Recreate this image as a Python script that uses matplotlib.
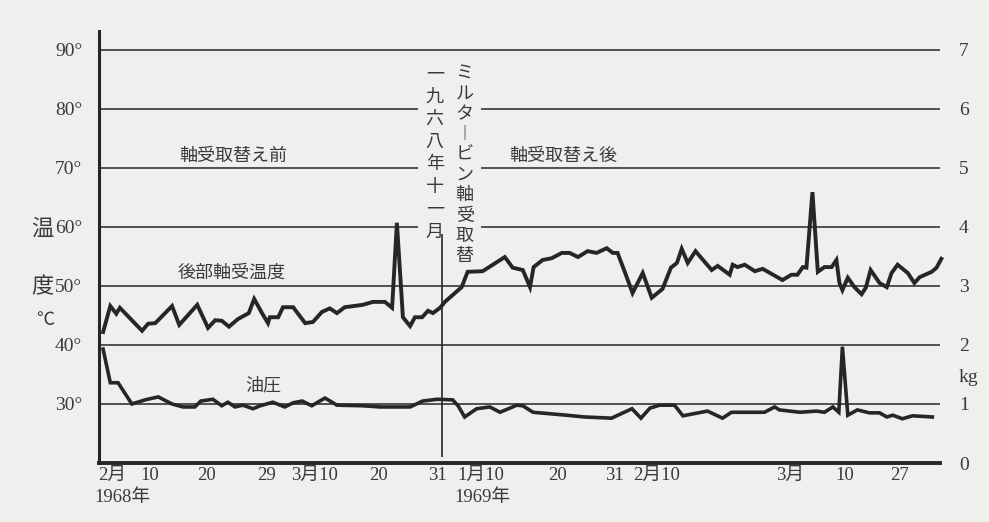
import matplotlib
matplotlib.use("Agg")
import matplotlib.pyplot as plt

# chart days (x) and readings
temp_day = [0.5, 1.7, 2.7, 3.3, 7.0, 8.0, 9.2, 12.0, 13.2, 16.2, 18.0, 19.2, 20.3, 21.5,
            23.0, 24.8, 25.7, 27.0, 28.0, 28.3, 29.7, 30.5, 32.2, 34.2, 35.5, 37.0, 38.3,
            39.5, 40.8, 43.8, 45.5, 47.5, 48.7, 49.5, 50.5, 51.7, 52.5, 53.7, 54.7, 55.5,
            56.7, 57.5, 60.3, 61.3, 63.8, 67.5, 68.8, 70.5, 71.7, 72.3, 73.8, 75.3, 77.0,
            78.3, 79.7, 81.3, 82.8, 84.5, 85.5, 86.3, 87.5, 88.8, 90.5, 92.0, 93.8, 95.2,
            96.2, 97.0, 98.0, 99.3, 100.3, 102.0, 103.0, 105.0, 105.5, 106.3, 107.5, 109.2,
            110.5, 113.8, 115.3, 116.3, 117.2, 117.8, 118.8, 119.7, 120.8, 122.0, 122.8,
            123.3, 123.8, 124.7, 125.8, 127.0, 127.7, 128.5, 130.0, 131.2, 132.0, 133.0,
            134.7, 135.8, 136.7, 138.7, 139.5, 140.3]
temp_c = [42.2, 46.6, 45.3, 46.3, 42.4, 43.6, 43.7, 46.6, 43.4, 46.8, 42.9, 44.2, 44.1, 43.1,
          44.4, 45.4, 47.8, 45.4, 43.7, 44.7, 44.7, 46.4, 46.4, 43.7, 43.9, 45.6, 46.2,
          45.4, 46.4, 46.8, 47.3, 47.3, 46.3, 60.7, 44.7, 43.2, 44.7, 44.7, 45.8, 45.4,
          46.3, 47.3, 49.8, 52.4, 52.5, 54.9, 53.1, 52.7, 49.8, 53.2, 54.4, 54.7, 55.6,
          55.6, 54.9, 55.9, 55.6, 56.4, 55.6, 55.6, 52.4, 48.8, 52.2, 48.0, 49.5, 53.1,
          53.9, 56.3, 53.9, 55.9, 54.7, 52.7, 53.4, 51.9, 53.6, 53.2, 53.6, 52.5,
          52.9, 51.0, 51.9, 51.9, 53.2, 53.1, 65.9, 52.4, 53.2, 53.2, 54.4,
          50.5, 49.3, 51.4, 49.8, 48.6, 49.7, 52.7, 50.5, 49.8, 52.2, 53.6,
          52.2, 50.5, 51.5, 52.4, 53.1, 54.6]

oil_day = [0.5, 1.7, 3.0, 5.3, 7.5, 9.7, 12.0, 13.8, 15.8, 16.8, 18.8, 20.3, 21.3, 22.5,
           23.8, 25.5, 26.7, 28.8, 30.8, 32.2, 33.7, 35.3, 36.3, 37.5, 38.7, 39.5, 43.8,
           46.7, 51.7, 53.8, 56.2, 58.8, 59.7, 60.8, 62.8, 65.0, 66.7, 69.5, 70.5, 72.2,
           77.8, 80.8, 85.3, 88.7, 90.2, 91.7, 93.3, 95.8, 97.2, 101.3, 103.8, 105.3,
           110.8, 112.5, 113.3, 116.7, 119.5, 120.8, 122.2, 123.2, 123.8, 124.7, 126.3,
           128.3, 130.0, 131.2, 132.2, 133.8, 135.5, 138.8]
oil_kg = [1.93, 1.36, 1.36, 1.00, 1.07, 1.12, 1.00, 0.95, 0.95, 1.05, 1.08, 0.97, 1.03, 0.95,
          0.98, 0.92, 0.97, 1.03, 0.95, 1.02, 1.05, 0.97, 1.03, 1.10, 1.03, 0.98, 0.97,
          0.95, 0.95, 1.05, 1.08, 1.07, 0.97, 0.78, 0.92, 0.95, 0.86, 0.98, 0.97, 0.86,
          0.81, 0.78, 0.76, 0.92, 0.76, 0.93, 0.98, 0.98, 0.80, 0.88, 0.76, 0.86,
          0.86, 0.95, 0.90, 0.86, 0.88, 0.86, 0.95, 0.86, 1.97, 0.81, 0.90,
          0.85, 0.85, 0.78, 0.81, 0.75, 0.80, 0.78]

tick_days = [2.0, 8.3, 17.8, 27.8, 35.7, 46.5, 56.3, 63.5, 76.2, 85.8, 92.8, 115.0, 124.2, 133.3]
tick_labels = ["2月", "10", "20", "29", "3月10", "20", "31", "1月10", "20", "31", "2月10",
               "3月", "10", "27"]
years = ["1968年", "1969年"]
year_days = [3.7, 63.8]
temp_ticks = [30, 40, 50, 60, 70, 80, 90]
kg_ticks = [0, 1, 2, 3, 4, 5, 6, 7]
change_day = 57.0

BG = "#efefed"
INK = "#262626"
TXT = "#3a3a3a"
NUM_FONT = ["Liberation Serif", "Noto Sans CJK JP"]
JP_FONT = ["Noto Sans CJK JP", "DejaVu Sans"]

fig = plt.figure(figsize=(9.89, 5.22), dpi=100, facecolor=BG)
ax = fig.add_axes([0.100, 0.113, 0.850, 0.8276], facecolor=BG)
ax2 = ax.twinx()

ax.set_xlim(-0.2, 140)
ax.set_ylim(20, 93.2)
ax2.set_ylim(0, 7.32)

for s in ["top", "right"]:
    ax.spines[s].set_visible(False)
for s in ax2.spines.values():
    s.set_visible(False)
ax.spines["left"].set_linewidth(2.2)
ax.spines["bottom"].set_linewidth(2.8)
ax.spines["left"].set_color(INK)
ax.spines["bottom"].set_color(INK)

ax.set_yticks(temp_ticks)
ax.set_yticklabels([f"{t}°" for t in temp_ticks], family=NUM_FONT, fontsize=14, color=TXT)
ax.tick_params(axis="y", length=0, pad=12)
ax.grid(axis="y", color=INK, lw=1.1)

ax.set_xticks(tick_days)
ax.set_xticklabels(tick_labels, family=NUM_FONT, fontsize=13.5, color=TXT)
ax.tick_params(axis="x", length=0, pad=3)

ax2.set_yticks(kg_ticks)
ax2.set_yticklabels([str(k) for k in kg_ticks], family=NUM_FONT, fontsize=14, color=TXT)
ax2.tick_params(axis="y", length=0, pad=14)

for yl, yd in zip(years, year_days):
    ax.text(yd, -0.08, yl, transform=ax.get_xaxis_transform(), ha="center", va="center",
            family=NUM_FONT, fontsize=13.5, color=TXT)

ax.plot(temp_day, temp_c, color=INK, lw=2.8, solid_joinstyle="miter", zorder=5, clip_on=False)
ax2.plot(oil_day, oil_kg, color=INK, lw=2.6, solid_joinstyle="miter", zorder=5)

ax.vlines(change_day, 21, 58.8, color=INK, lw=1.2, zorder=4)

# labels inside the chart
ax.text(22.2, 72.0, "軸受取替え前", ha="center", va="center", family=JP_FONT, fontsize=13, color=TXT)
ax.text(77.2, 72.0, "軸受取替え後", ha="center", va="center", family=JP_FONT, fontsize=13, color=TXT)
ax.text(22.0, 52.2, "後部軸受温度", ha="center", va="center", family=JP_FONT, fontsize=13, color=TXT)
ax.text(27.2, 33.2, "油圧", ha="center", va="center", family=JP_FONT, fontsize=13, color=TXT)

col1 = "一九六八年十一月"
col2 = "ミルタ︱ビン軸受取替"
ax.text(55.8, 87.4, "\n".join(col1), ha="center", va="top", family=JP_FONT, fontsize=13,
        color=TXT, linespacing=1.32, zorder=3,
        bbox=dict(boxstyle="square,pad=0.45", fc=BG, ec="none"))
ax.text(60.8, 87.6, "\n".join(col2), ha="center", va="top", family=JP_FONT, fontsize=13,
        color=TXT, linespacing=1.17, zorder=3,
        bbox=dict(boxstyle="square,pad=0.42", fc=BG, ec="none"))

# axis titles
fig.text(42 / 989, 1 - 228 / 522, "温", ha="center", va="center", family=JP_FONT, fontsize=16, color=TXT)
fig.text(42 / 989, 1 - 287 / 522, "度", ha="center", va="center", family=JP_FONT, fontsize=16, color=TXT)
fig.text(45 / 989, 1 - 320 / 522, "℃", ha="center", va="center", family=JP_FONT, fontsize=13, color=TXT)
fig.text(968 / 989, 1 - 377 / 522, "kg", ha="center", va="center", family=NUM_FONT, fontsize=14, color=TXT)

fig.savefig("out.png", dpi=100, facecolor=BG)
